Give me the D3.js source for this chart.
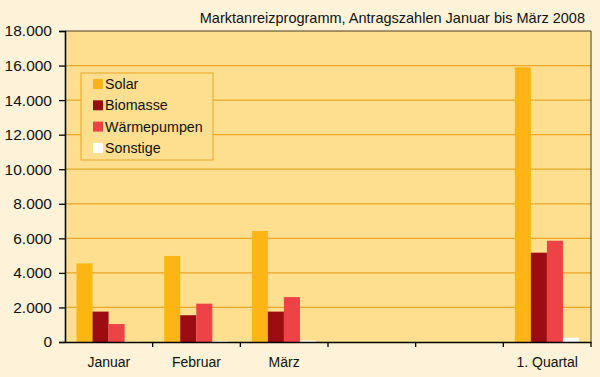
<!DOCTYPE html>
<html>
<head>
<meta charset="utf-8">
<script src="https://cdn.jsdelivr.net/npm/d3@7"></script>
<style>
  body { margin: 0; background: #fef3d8; }
  svg { display: block; font-family: "Liberation Sans", Arial, sans-serif; }
</style>
</head>
<body>
<div class="canvas"></div>
<script>
// Antragszahlen Marktanreizprogramm
const categories = ["Januar", "Februar", "März", "", " ", "1. Quartal"];
const series = ["Solar", "Biomasse", "Wärmepumpen", "Sonstige"];
const solar = [4550, 4980, 6420, null, null, 15900];
const biomasse = [1760, 1550, 1760, null, null, 5170];
const waermepumpen = [1040, 2220, 2600, null, null, 5860];
const sonstige = [20, 60, 80, null, null, 250];
const yTicks = [0, 2000, 4000, 6000, 8000, 10000, 12000, 14000, 16000, 18000];
const colors = ["#fdb515", "#9b0d12", "#ee4346", "#ffffff"];

const width = 600;
const height = 377;
const marginTop = 31;
const marginRight = 9;
const marginBottom = 35;
const marginLeft = 65;

const values = [solar, biomasse, waermepumpen, sonstige];

const svg = d3.select(".canvas").append("svg")
  .attr("width", width)
  .attr("height", height);

svg.append("rect")
  .attr("width", width).attr("height", height)
  .attr("fill", "#fef3d8");

const x = d3.scaleBand()
  .domain(categories)
  .range([marginLeft, width - marginRight])
  .paddingInner(0)
  .paddingOuter(0);

const x1 = d3.scaleBand()
  .domain(series)
  .range([11.5, x.bandwidth() - 12]);

const y = d3.scaleLinear()
  .domain([0, 18000])
  .range([height - marginBottom, marginTop]);

// Zeichenfläche
svg.append("rect")
  .attr("x", marginLeft)
  .attr("y", marginTop)
  .attr("width", width - marginRight - marginLeft)
  .attr("height", height - marginBottom - marginTop)
  .attr("fill", "#fedf8f");

// Gitterlinien
svg.append("g")
  .selectAll("line")
  .data(yTicks.filter(d => d > 0 && d < 18000))
  .join("line")
  .attr("x1", marginLeft)
  .attr("x2", width - marginRight)
  .attr("y1", d => y(d))
  .attr("y2", d => y(d))
  .attr("stroke", "#e9a628")
  .attr("stroke-width", 1.3);

// Rahmen oben und rechts
svg.append("path")
  .attr("d", `M${marginLeft},${y(18000)}H${width - marginRight}V${y(0)}`)
  .attr("fill", "none")
  .attr("stroke", "#4a3a20")
  .attr("stroke-width", 1);

// Balken
const groups = svg.append("g")
  .selectAll("g")
  .data(categories)
  .join("g")
  .attr("transform", d => `translate(${x(d)},0)`);

groups.selectAll("rect")
  .data((c, i) => series.map((s, j) => ({ s: s, v: values[j][i], c: colors[j] })))
  .join("rect")
  .filter(d => d.v != null)
  .attr("x", d => x1(d.s))
  .attr("width", x1.bandwidth())
  .attr("y", d => y(d.v))
  .attr("height", d => y(0) - y(d.v))
  .attr("fill", d => d.c);

// Achsen
const fmt = d => d3.format(",")(d).replace(/,/g, ".");

const gy = svg.append("g")
  .attr("transform", `translate(${marginLeft},0)`)
  .call(d3.axisLeft(y).tickValues(yTicks).tickFormat(fmt).tickSize(6).tickPadding(7));
gy.select(".domain").attr("stroke", "#000").attr("stroke-width", 1.6);
gy.selectAll(".tick line").attr("stroke", "#000").attr("stroke-width", 1.3);
gy.selectAll(".tick text")
  .attr("font-size", 15.5)
  .attr("font-family", "Liberation Sans, Arial, sans-serif")
  .attr("fill", "#111");

const gx = svg.append("g")
  .attr("transform", `translate(0,${y(0)})`)
  .call(d3.axisBottom(x).tickSize(0).tickPadding(15));
gx.select(".domain").attr("stroke", "#000").attr("stroke-width", 1.6);
gx.selectAll(".tick text")
  .attr("font-size", 14)
  .attr("font-family", "Liberation Sans, Arial, sans-serif")
  .attr("fill", "#111");

// Teilstriche zwischen den Kategorien
gx.append("g")
  .selectAll("line")
  .data(categories.slice(1).map(c => x(c)).concat([x.range()[1]]))
  .join("line")
  .attr("x1", d => d).attr("x2", d => d)
  .attr("y1", 0).attr("y2", 5)
  .attr("stroke", "#000")
  .attr("stroke-width", 1.3);

// Titel
svg.append("text")
  .attr("x", 585)
  .attr("y", 23)
  .attr("text-anchor", "end")
  .attr("font-size", 14.5)
  .attr("fill", "#111")
  .text("Marktanreizprogramm, Antragszahlen Januar bis März 2008");

// Legende
const legendX = 81;
const legendY = 73;
svg.append("rect")
  .attr("x", legendX)
  .attr("y", legendY)
  .attr("width", 132)
  .attr("height", 87)
  .attr("fill", "#fedf8f")
  .attr("stroke", "#e9a628")
  .attr("stroke-width", 1);

const legend = svg.selectAll(".legend")
  .data(series)
  .join("g")
  .attr("class", "legend")
  .attr("transform", (d, i) => `translate(${legendX + 12},${legendY + 11 + i * 21.3})`);

legend.append("rect")
  .attr("width", 10)
  .attr("height", 10)
  .attr("y", -5)
  .attr("fill", (d, i) => colors[i]);

legend.append("text")
  .attr("x", 12)
  .attr("y", 5)
  .attr("font-size", 14.3)
  .attr("fill", "#111")
  .text(d => d);
</script>
</body>
</html>
